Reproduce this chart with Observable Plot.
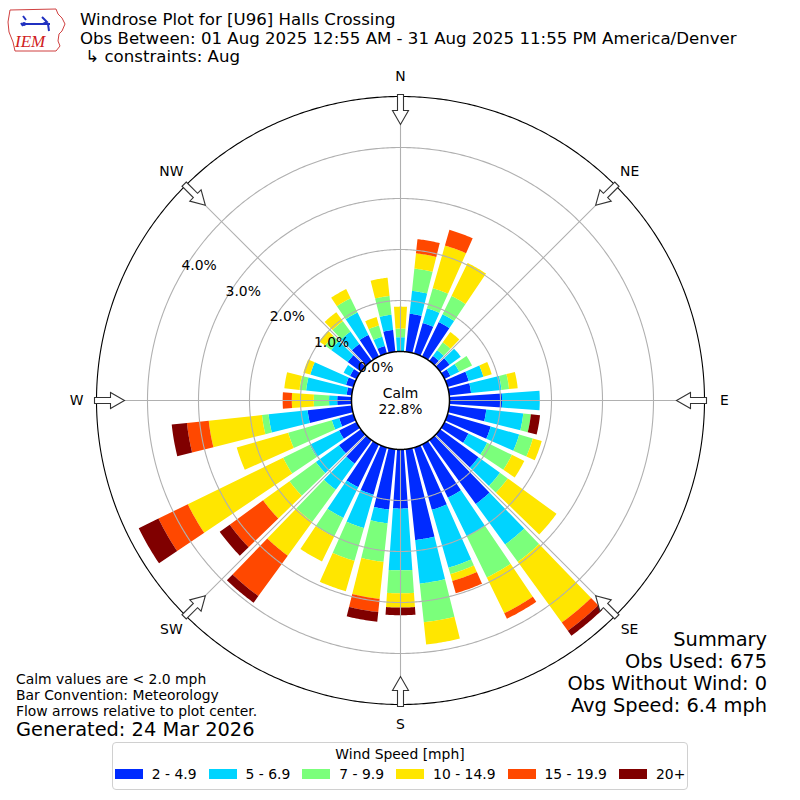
<!DOCTYPE html>
<html>
<head>
<meta charset="utf-8">
<script src="https://cdn.jsdelivr.net/npm/d3@7"></script>
<script src="https://cdn.jsdelivr.net/npm/@observablehq/plot@0.6"></script>
<style>
html, body { margin: 0; padding: 0; background: #fff; }
body { font-family: "DejaVu Sans", sans-serif; color: #000; }
#wrap { position: relative; width: 800px; height: 800px; overflow: hidden; }
#chart { position: absolute; left: 0; top: 0; }
.t { position: absolute; white-space: pre; line-height: 1.0; }
.title { left: 80px; font-size: 16.6px; }
.note { left: 16px; font-size: 13.9px; }
.sum { right: 33px; font-size: 19.4px; text-align: right; }
#legend { position: absolute; left: 112px; top: 742px; width: 574px; height: 46px;
  border: 1px solid #d0d0d0; border-radius: 4px; background: #fff; font-size: 13.9px; }
#legend .lt { text-align: center; margin-top: 3px; line-height: 16px; white-space: nowrap; }
#legend .items { display: flex; justify-content: center; align-items: center; margin-top: 4px; white-space: nowrap; }
#legend .item { display: flex; align-items: center; margin: 0 6px; flex: none; }
#legend .item span { white-space: nowrap; line-height: 16px; }
#legend .sw { width: 28px; height: 10px; margin-right: 9px; flex: none; }
#logo { position: absolute; left: 4px; top: 4px; }
</style>
</head>
<body>
<div id="wrap">
  <div id="chart"></div>
  <svg id="logo" width="66" height="50" viewBox="0 0 66 50">
    <path d="M6,6 L52,5 L54,10 L58,14 L61,20 L58,27 L55,30 L54,37 L56,42 L52,47 L11,47 L9,38 L5,28 L4,18 Z" fill="none" stroke="#d04040" stroke-width="1"/>
    <path d="M19,12 l3,4 M17,19 l2,3 M21,20 L46,20 M38,13 l5,5 l-4,2 M44,20 l1,7" stroke="#2030c0" stroke-width="2" fill="none"/>
    <circle cx="20" cy="20" r="2" fill="#2030c0"/>
    <text x="11" y="43" font-family="Liberation Serif, serif" font-style="italic" font-size="17" fill="#d02020">IEM</text>
  </svg>
  <div class="t title" style="top:12.2px">Windrose Plot for [U96] Halls Crossing</div>
  <div class="t title" style="top:30.6px">Obs Between: 01 Aug 2025 12:55 AM - 31 Aug 2025 11:55 PM America/Denver</div>
  <div class="t title" style="top:48.8px"> ↳ constraints: Aug</div>
  <div class="t note" style="top:673.2px">Calm values are &lt; 2.0 mph</div>
  <div class="t note" style="top:689.2px">Bar Convention: Meteorology</div>
  <div class="t note" style="top:705.2px">Flow arrows relative to plot center.</div>
  <div class="t note" style="top:719.8px;font-size:19.4px">Generated: 24 Mar 2026</div>
  <div class="t sum" style="top:629.6px">Summary</div>
  <div class="t sum" style="top:651.6px">Obs Used: 675</div>
  <div class="t sum" style="top:673.6px">Obs Without Wind: 0</div>
  <div class="t sum" style="top:695.6px">Avg Speed: 6.4 mph</div>
  <div id="legend"><div class="lt">Wind Speed [mph]</div><div class="items"></div></div>
</div>
<script>
// ---------- data ----------
const speedLabels = ["2 - 4.9", "5 - 6.9", "7 - 9.9", "10 - 14.9", "15 - 19.9", "20+"];
const speedColors = ["#002bff", "#00d4ff", "#7bff7b", "#ffe600", "#ff4800", "#800000"];
const directions = [0, 10, 20, 30, 40, 50, 60, 70, 80, 90, 100, 110, 120, 130, 140, 150, 160, 170,
                    180, 190, 200, 210, 220, 230, 240, 250, 260, 270, 280, 290, 300, 310, 320, 330, 340, 350];
// percent of observations per direction, one array per speed bin
const pct2to5   = [0.00, 0.75, 0.62, 0.75, 0.12, 0.23, 0.13, 0.43, 0.43, 1.03, 0.73, 0.88, 0.52, 0.93, 1.55, 1.16, 1.27, 1.79,
                   1.16, 1.19, 0.96, 0.93, 0.57, 0.53, 0.38, 0.29, 0.87, 0.28, 0.10, 0.15, 0.14, 0.32, 0.41, 0.47, 0.15, 0.43];
const pct5to7   = [0.28, 0.45, 0.30, 0.17, 0.14, 0.27, 0.19, 0.30, 0.60, 0.74, 0.73, 0.58, 0.41, 0.52, 0.98, 0.84, 1.18, 0.86,
                   1.21, 0.27, 0.68, 0.67, 0.63, 0.56, 0.64, 0.15, 0.77, 0.16, 0.80, 0.73, 0.14, 0.40, 0.30, 0.49, 0.19, 0.30];
const pct7to10  = [0.17, 0.44, 0.41, 0.40, 0.19, 0.00, 0.28, 0.00, 0.15, 0.00, 0.15, 0.28, 0.54, 0.19, 0.42, 0.90, 0.13, 0.76,
                   0.45, 0.76, 0.67, 0.41, 0.78, 0.64, 0.58, 0.89, 0.13, 0.30, 0.13, 0.00, 0.00, 0.15, 0.25, 0.31, 0.23, 0.37];
const pct10to15 = [0.43, 0.30, 0.87, 0.72, 0.25, 0.00, 0.00, 0.17, 0.17, 0.00, 0.00, 0.18, 0.27, 1.18, 1.47, 0.78, 0.14, 0.44,
                   0.28, 0.73, 0.62, 0.54, 0.82, 0.64, 2.08, 1.05, 1.05, 0.43, 0.30, 0.14, 0.00, 0.14, 0.22, 0.20, 0.17, 0.36];
const pct15to20 = [0.00, 0.28, 0.32, 0.00, 0.00, 0.00, 0.00, 0.00, 0.00, 0.00, 0.00, 0.00, 0.00, 0.00, 0.20, 0.12, 0.25, 0.00,
                   0.00, 0.26, 0.00, 0.00, 0.98, 0.81, 0.64, 0.00, 0.43, 0.18, 0.00, 0.00, 0.00, 0.00, 0.00, 0.00, 0.00, 0.00];
const pct20plus = [0.00, 0.00, 0.00, 0.00, 0.00, 0.00, 0.00, 0.00, 0.00, 0.00, 0.18, 0.00, 0.00, 0.00, 0.12, 0.00, 0.00, 0.00,
                   0.15, 0.19, 0.00, 0.00, 0.16, 0.24, 0.43, 0.00, 0.30, 0.00, 0.00, 0.00, 0.00, 0.00, 0.00, 0.00, 0.00, 0.00];
const calmLabel = "Calm\n22.8%";
const ringPcts = [0, 1, 2, 3, 4];
const gridPcts = [1, 2, 3, 4];
const outerPct = 5;
const compassNames = ["N", "NE", "E", "SE", "S", "SW", "W", "NW"];
const compassDirs = [0, 45, 90, 135, 180, 225, 270, 315];

// ---------- geometry helpers (polar via azimuthal projection) ----------
const binValues = [pct2to5, pct5to7, pct7to10, pct10to15, pct15to20, pct20plus];
const fitPx = 400, domainDeg = 90;          // domain circle fitted to the 800px frame
const calmPx = 49, pxPerPct = 51;           // radial scale: calm circle, px per 1%
const pxToDeg = px => px * domainDeg / fitPx;
const radDeg = p => pxToDeg(calmPx + pxPerPct * p);
const lat = p => 90 - radDeg(p);
const lon = dir => 180 - dir;               // meteorological direction -> longitude
const barWidth = 8;

function polygon(ring, props) {
  const f = {type: "Feature", properties: props, geometry: {type: "Polygon", coordinates: [ring]}};
  if (d3.geoArea(f) > 2 * Math.PI) ring.reverse();
  return f;
}
function wedge(dir, p0, p1, props) {
  const a0 = dir - barWidth / 2, a1 = dir + barWidth / 2;
  const outer = d3.range(a0, a1 + 1e-9, 0.5).map(a => [lon(a), lat(p1)]);
  const inner = d3.range(a1, a0 - 1e-9, -0.5).map(a => [lon(a), lat(p0)]);
  return polygon([...outer, ...inner, outer[0]], props);
}

const segments = [];
directions.forEach((dir, i) => {
  let c = 0;
  binValues.forEach((vals, k) => {
    const v = vals[i];
    if (v > 0) segments.push(wedge(dir, c, c + v, {bin: speedLabels[k]}));
    c += v;
  });
});

const circle = p => d3.geoCircle().center([0, 90]).radius(radDeg(p)).precision(0.5)();
const spokes = compassDirs.map(d => ({type: "LineString", coordinates: [[lon(d), lat(0)], [lon(d), lat(outerPct)]]}));

const hollowArrow = {
  draw(context, l) {
    const h = 14, hw = 8, sw = 3;
    context.moveTo(-sw, 0);
    context.lineTo(-sw, -(l - h));
    context.lineTo(-hw, -(l - h));
    context.lineTo(0, -l);
    context.lineTo(hw, -(l - h));
    context.lineTo(sw, -(l - h));
    context.lineTo(sw, 0);
    context.closePath();
  }
};

const chart = Plot.plot({
  width: 800,
  height: 800,
  margin: 0,
  projection: {
    type: "azimuthal-equidistant",
    rotate: [0, -90],
    domain: d3.geoCircle().center([0, 90]).radius(domainDeg)()
  },
  color: {domain: speedLabels, range: speedColors},
  style: {fontFamily: "DejaVu Sans", background: "transparent", overflow: "visible"},
  marks: [
    Plot.geo(segments, {fill: d => d.properties.bin, stroke: "none"}),
    Plot.geo(gridPcts.map(circle), {fill: "none", stroke: "#b0b0b0", strokeWidth: 1.1}),
    Plot.geo(spokes, {stroke: "#b0b0b0", strokeWidth: 1.1}),
    Plot.geo([circle(outerPct)], {fill: "none", stroke: "#000", strokeWidth: 1.1}),
    Plot.geo([circle(0)], {fill: "white", stroke: "#000", strokeWidth: 1.5}),
    Plot.text([calmLabel], {x: 0, y: 90, text: d => d, fontSize: 13.9, lineHeight: 1.2}),
    Plot.text(ringPcts, {x: lon(300), y: p => lat(p), text: p => p.toFixed(1) + "%", textAnchor: "start", dy: -8, fontSize: 13.9}),
    Plot.vector(compassDirs, {
      x: d => lon(d), y: () => 90 - pxToDeg(306), rotate: d => d + 180, length: 30,
      anchor: "start", shape: hollowArrow, fill: "white", stroke: "#333", strokeWidth: 1.1, strokeLinejoin: "miter"
    }),
    Plot.text(compassDirs, {x: d => lon(d), y: () => 90 - pxToDeg(324), text: (d, i) => compassNames[i], fontSize: 13.9})
  ]
});
document.getElementById("chart").appendChild(chart);

// legend
const items = d3.select("#legend .items");
speedLabels.forEach((lab, i) => {
  const it = items.append("div").attr("class", "item");
  it.append("div").attr("class", "sw").style("background", speedColors[i]);
  it.append("span").text(lab);
});
</script>
</body>
</html>
